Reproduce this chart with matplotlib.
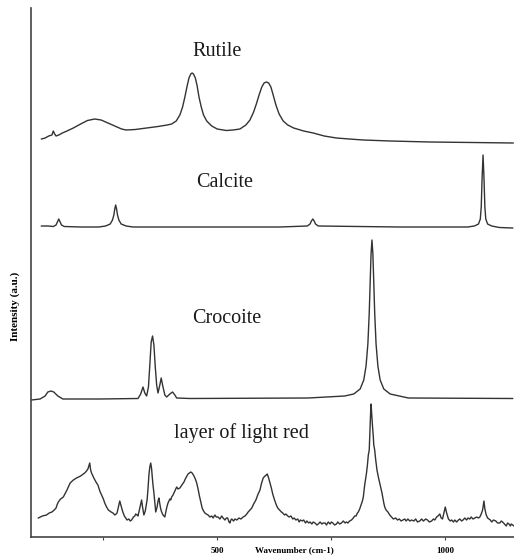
import matplotlib
matplotlib.use("Agg")
import matplotlib.pyplot as plt

# Raman spectra: wavenumber (cm-1) and stacked intensity (a.u.)
rutile_wn = [114, 122, 130, 137, 140, 143, 146, 152, 160, 170,
             184, 200, 215, 231, 245, 260, 275, 290, 300, 320,
             345, 370, 390, 400, 410, 418, 424, 429, 434, 438,
             442, 445, 448, 452, 456, 460, 465, 470, 477, 488,
             500, 520, 535, 550, 563, 572, 580, 586, 592, 598,
             603, 608, 613, 618, 623, 629, 636, 645, 655, 668,
             690, 711, 735, 762, 790, 821, 880, 967, 1060, 1150]
rutile_int = [398, 399, 401, 402, 406, 403, 401, 402, 404, 406,
              409, 413, 416.5, 418, 417, 414, 411, 408, 407, 407.5,
              409, 410.5, 412, 413, 416, 422, 430, 440, 451, 459,
              463, 464, 463, 459, 451, 440, 430, 422, 416, 411,
              408, 406.5, 407, 408, 412, 417, 425, 433, 442, 450,
              454, 455, 454, 450, 442, 432, 423, 416, 412, 409,
              406, 404, 401, 399, 398, 397, 396, 395, 394.5, 394]

calcite_wn = [114, 128, 140, 146, 149, 152, 155, 158, 164, 200,
              240, 255, 265, 270, 273, 275, 277, 279, 281, 284,
              289, 300, 315, 462, 638, 698, 704, 707, 710, 713,
              716, 722, 900, 1050, 1065, 1074, 1078, 1080, 1082, 1084,
              1086, 1088, 1090, 1094, 1103, 1120, 1149]
calcite_int = [311, 311, 310.5, 312, 315, 318, 315, 312, 310.5, 310,
               310, 311, 313, 317, 322, 328, 332, 328, 322, 317,
               313, 311, 310, 310, 310, 311, 313, 316, 318, 316,
               313, 311, 310, 310, 311, 313, 318, 330, 360, 382,
               360, 330, 318, 313, 311, 309.5, 309]

crocoite_wn = [92, 111, 122, 128, 135, 141, 150, 161, 242, 326,
               332, 337, 341, 345, 349, 352, 355, 358, 361, 364,
               367, 370, 374, 377, 380, 385, 389, 396, 402, 407,
               411, 440, 700, 780, 800, 814, 822, 827, 831, 834,
               836, 838, 840, 842, 844, 846, 849, 853, 858, 866,
               880, 900, 920, 1149]
crocoite_int = [137, 138, 141, 145, 146, 145, 141, 138, 138, 138.5,
                143, 150, 144, 141, 150, 172, 195, 201, 192, 170,
                152, 144, 152, 159, 152, 142, 140, 143, 145, 142,
                139, 138.5, 139, 141, 143, 148, 157, 171, 193, 224,
                254, 283, 297, 283, 254, 224, 193, 171, 157, 148,
                143, 141, 139, 138.5]

layer_wn = [107, 116, 125, 131, 137, 142, 146, 149, 151, 156,
            162, 170, 177, 184, 191, 200, 209, 213, 216, 220,
            222, 224, 229, 235, 238, 240, 243, 246, 250, 253,
            257, 261, 264, 267, 271, 275, 278, 280, 283, 286,
            289, 292, 296, 299, 302, 306, 309, 312, 316, 319,
            321, 324, 326, 329, 332, 334, 336, 339, 342, 346,
            348, 350, 352, 354, 356, 357, 359, 361, 363, 365,
            368, 370, 372, 374, 376, 378, 381, 385, 388, 390,
            392, 394, 396, 398, 400, 403, 405, 408, 411, 414,
            418, 421, 424, 427, 431, 436, 439, 442, 445, 449,
            452, 455, 458, 461, 464, 467, 470, 473, 476, 480,
            484, 488, 491, 495, 498, 502, 506, 510, 513, 517,
            520, 523, 526, 528, 530, 532, 536, 539, 543, 548,
            552, 557, 561, 565, 568, 572, 576, 580, 585, 589,
            594, 597, 601, 605, 608, 610, 613, 616, 619, 622,
            626, 630, 633, 637, 641, 644, 648, 651, 655, 658,
            662, 666, 669, 673, 677, 680, 683, 687, 690, 694,
            697, 701, 704, 708, 711, 715, 719, 722, 726, 730,
            733, 737, 740, 744, 748, 751, 754, 758, 762, 765,
            769, 773, 777, 781, 784, 787, 791, 795, 799, 802,
            805, 808, 810, 813, 816, 819, 821, 824, 826, 828,
            830, 832, 834, 835, 836, 837, 838, 839, 840, 841,
            843, 844, 846, 848, 851, 854, 857, 859, 862, 864,
            866, 868, 871, 875, 879, 883, 887, 892, 896, 900,
            904, 908, 912, 915, 919, 923, 927, 932, 936, 940,
            945, 949, 953, 958, 962, 966, 971, 975, 978, 982,
            985, 989, 992, 995, 998, 1001, 1004, 1008, 1012, 1015,
            1019, 1022, 1026, 1030, 1033, 1037, 1040, 1044, 1048, 1051,
            1055, 1058, 1062, 1066, 1070, 1074, 1077, 1080, 1083, 1086,
            1088, 1091, 1094, 1097, 1100, 1103, 1107, 1112, 1116, 1121,
            1124, 1127, 1131, 1135, 1138, 1141, 1144, 1146, 1149, 1152]
layer_int = [19, 21, 22, 24, 25, 27, 29, 33, 35, 38,
             40, 47, 54, 57, 59, 61, 64, 66, 68, 74,
             67, 64, 59, 54, 52, 49, 45, 42, 38, 34,
             30, 27, 26, 25, 24, 22, 23, 24, 30, 36,
             31, 26, 21, 19, 17, 18, 16, 17, 20, 21,
             23, 22, 21, 27, 33, 37, 30, 22, 26, 37,
             48, 62, 70, 74, 68, 62, 52, 44, 35, 25,
             30, 36, 39, 33, 28, 25, 22, 20, 27, 31,
             34, 36, 38, 37, 40, 42, 44, 47, 50, 48,
             49, 51, 53, 55, 59, 63, 64, 65, 64, 61,
             58, 54, 48, 41, 35, 29, 26, 24, 23, 22,
             20, 21, 19, 22, 20, 20, 18, 21, 19, 17,
             19, 19, 15, 14, 17, 18, 16, 18, 17, 19,
             18, 20, 21, 23, 25, 27, 29, 33, 37, 42,
             47, 53, 59, 61, 62, 63, 59, 54, 49, 43,
             37, 32, 29, 27, 25, 24, 22, 23, 21, 20,
             21, 18, 19, 17, 18, 15, 17, 16, 17, 14,
             16, 14, 15, 13, 15, 14, 12, 13, 15, 13,
             14, 14, 12, 15, 13, 15, 14, 12, 13, 15,
             13, 14, 16, 14, 15, 14, 16, 17, 19, 21,
             21, 24, 25, 28, 32, 36, 40, 52, 58, 64,
             72, 82, 87, 100, 112, 124, 133, 126, 118, 112,
             100, 92, 87, 78, 67, 60, 54, 50, 44, 39,
             34, 30, 27, 25, 22, 20, 18, 19, 17, 18,
             16, 17, 18, 16, 18, 16, 17, 16, 18, 15,
             16, 18, 16, 18, 17, 15, 16, 18, 17, 20,
             21, 23, 19, 18, 24, 30, 24, 18, 16, 17,
             15, 17, 15, 17, 18, 16, 17, 19, 17, 19,
             18, 20, 18, 19, 20, 19, 20, 23, 27, 36,
             28, 22, 19, 18, 17, 15, 17, 16, 14, 14,
             16, 15, 13, 11, 14, 13, 11, 13, 12, 11]

spectra = [
    ("Rutile", rutile_wn, rutile_int, 499, 481),
    ("Calcite", calcite_wn, calcite_int, 516, 350),
    ("Crocoite", crocoite_wn, crocoite_int, 521, 214),
    ("layer of light red", layer_wn, layer_int, 554, 99),
]

major_ticks = [250, 500, 750, 1000]
tick_labels = ["", "500", "", "1000"]

serif = ["Liberation Serif", "DejaVu Serif"]

fig = plt.figure(figsize=(5.14, 5.58), dpi=100)
ax = fig.add_axes([31 / 514, 21 / 558, 483 / 514, 529 / 558])

for name, wn, inten, tx, ty in spectra:
    ax.plot(wn, inten, color="#333333", lw=1.0)
    ax.text(tx, ty, name, ha="center", va="baseline", fontsize=14.5,
            family=serif, color="#1a1a1a")

ax.set_xlim(91, 1152)
ax.set_ylim(0, 529)
ax.set_xticks(major_ticks)
ax.set_xticklabels(tick_labels, family=serif, fontsize=6.5, fontweight="bold")
ax.tick_params(axis="x", length=2.5, width=0.8, pad=5, color="#444444")
ax.set_yticks([])
for side in ["top", "right"]:
    ax.spines[side].set_visible(False)
for side in ["left", "bottom"]:
    ax.spines[side].set_color("#444444")
    ax.spines[side].set_linewidth(1.2)

fig.text(294 / 514, 1 - 550 / 558, "Wavenumber (cm-1)", ha="center", va="center",
         family=serif, fontsize=6.5, fontweight="bold")
fig.text(15 / 514, 1 - 306 / 558, "Intensity (a.u.)", ha="center", va="center",
         rotation=90, family=serif, fontsize=8, fontweight="bold")

fig.savefig("out.png", dpi=100)
